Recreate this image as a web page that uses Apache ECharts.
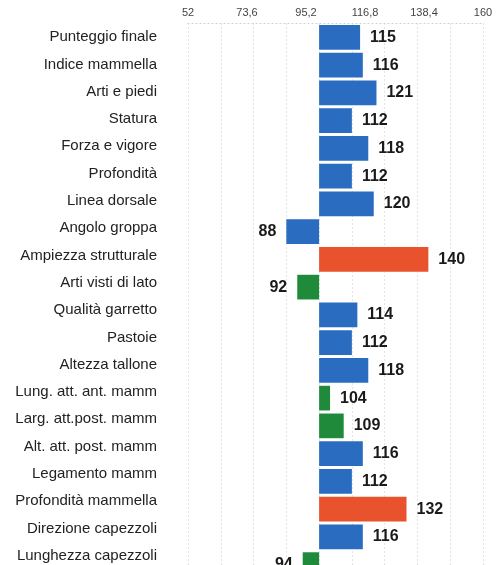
<!DOCTYPE html>
<html>
<head>
<meta charset="utf-8">
<script src="https://cdn.jsdelivr.net/npm/echarts@6/dist/echarts.min.js"></script>
<style>
html,body{margin:0;padding:0;background:#fff;overflow:hidden;height:565px;}
#c{width:504px;height:600px;}
</style>
</head>
<body>
<div id="c"></div>
<script>
const categories = [
  'Punteggio finale','Indice mammella','Arti e piedi','Statura','Forza e vigore',
  'Profondità','Linea dorsale','Angolo groppa','Ampiezza strutturale','Arti visti di lato',
  'Qualità garretto','Pastoie','Altezza tallone','Lung. att. ant. mamm','Larg. att.post. mamm',
  'Alt. att. post. mamm','Legamento mamm','Profondità mammella','Direzione capezzoli','Lunghezza capezzoli'
];
const values = [115,116,121,112,118,112,120,88,140,92,114,112,118,104,109,116,112,132,116,94];
// group of each trait: 'n' = normal, 'r' = highlighted high, 'g' = highlighted
const groups = ['n','n','n','n','n','n','n','n','r','g','n','n','n','g','g','n','n','r','n','g'];
const baseValue = 100;
const axisMin = 52, axisMax = 160;

const palette = { n: '#2a6cc0', r: '#e8532e', g: '#1f8a3a' };

const chart = echarts.init(document.getElementById('c'));
const fontFam = '"Liberation Sans", Arial, sans-serif';

chart.setOption({
  animation: false,
  backgroundColor: '#ffffff',
  grid: [
    { left: 188, right: 21, top: 23.5, height: 555, containLabel: false },
    { left: 188, right: 21, top: 23.5, height: 546, containLabel: false }
  ],
  xAxis: [
    {
      type: 'value', gridIndex: 0, position: 'top', min: axisMin, max: axisMax, interval: 21.6,
      axisLine: { show: true, lineStyle: { color: '#d0d0d0', type: [1, 3] } },
      axisTick: { show: false },
      splitLine: { show: false },
      axisLabel: {
        margin: 5, color: '#444', fontSize: 11, fontFamily: fontFam,
        formatter: v => (Math.round(v * 10) / 10).toString().replace('.', ',')
      }
    },
    {
      type: 'value', gridIndex: 0, position: 'bottom', min: axisMin, max: axisMax, interval: 12,
      axisLine: { show: false }, axisTick: { show: false }, axisLabel: { show: false },
      splitLine: { show: true, lineStyle: { color: '#c8c8c8', type: [1, 3], width: 1 } }
    },
    {
      type: 'value', gridIndex: 1, min: axisMin, max: axisMax, show: false
    }
  ],
  yAxis: [
    {
      type: 'category', gridIndex: 0, data: categories, inverse: true,
      axisLine: { show: false }, axisTick: { show: false }, splitLine: { show: false },
      axisLabel: { show: false }
    },
    {
      type: 'category', gridIndex: 1, data: categories, inverse: true,
      axisLine: { show: false }, axisTick: { show: false }, splitLine: { show: false },
      axisLabel: { margin: 31, color: '#222', fontSize: 15, fontFamily: fontFam }
    }
  ],
  series: [
    {
      type: 'bar', stack: 'a', stackStrategy: 'all', xAxisIndex: 0, yAxisIndex: 0,
      data: categories.map(() => baseValue),
      itemStyle: { color: 'transparent' },
      silent: true, barCategoryGap: '11%'
    },
    {
      type: 'bar', stack: 'a', stackStrategy: 'all', xAxisIndex: 0, yAxisIndex: 0,
      barCategoryGap: '11%',
      data: values.map((v, i) => ({
        value: v - baseValue,
        itemStyle: { color: palette[groups[i]] },
        label: { position: v >= baseValue ? 'right' : 'left' }
      })),
      label: {
        show: true, distance: 10, color: '#1a1a1a', fontSize: 16, fontWeight: 'bold',
        fontFamily: fontFam,
        formatter: p => values[p.dataIndex]
      }
    }
  ]
});
</script>
</body>
</html>
